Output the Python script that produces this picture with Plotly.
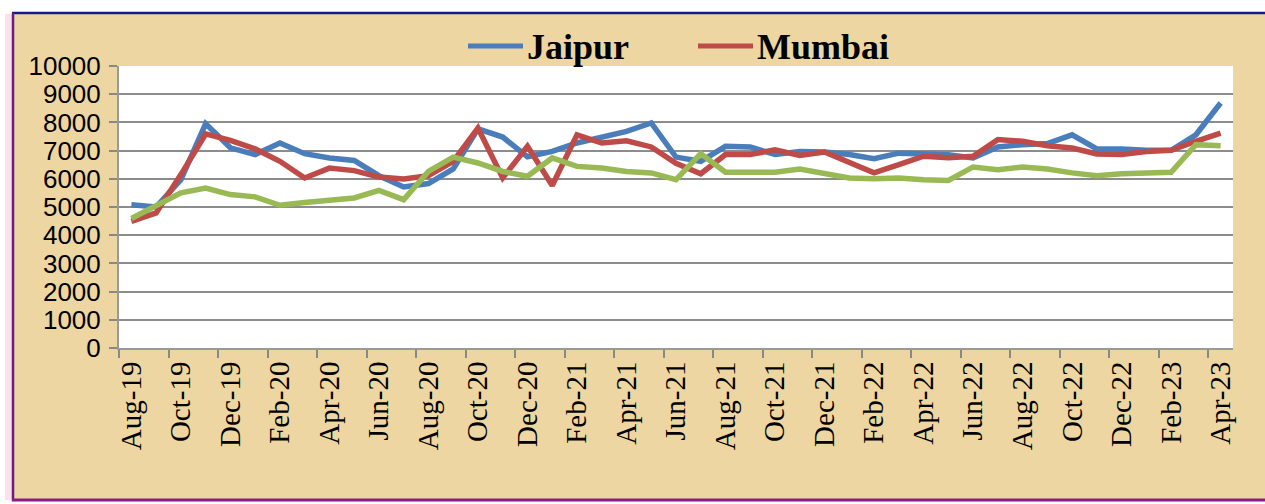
import plotly.graph_objects as go

months = ["Aug-19", "Sep-19", "Oct-19", "Nov-19", "Dec-19", "Jan-20", "Feb-20", "Mar-20", "Apr-20",
          "May-20", "Jun-20", "Jul-20", "Aug-20", "Sep-20", "Oct-20", "Nov-20", "Dec-20", "Jan-21",
          "Feb-21", "Mar-21", "Apr-21", "May-21", "Jun-21", "Jul-21", "Aug-21", "Sep-21", "Oct-21",
          "Nov-21", "Dec-21", "Jan-22", "Feb-22", "Mar-22", "Apr-22", "May-22", "Jun-22", "Jul-22",
          "Aug-22", "Sep-22", "Oct-22", "Nov-22", "Dec-22", "Jan-23", "Feb-23", "Mar-23", "Apr-23"]

jaipur = [5080, 5000, 5970, 7950, 7100, 6860, 7270, 6890, 6740, 6650, 6110, 5710, 5830, 6350, 7770,
          7480, 6780, 6970, 7270, 7480, 7680, 7980, 6770, 6620, 7150, 7130, 6860, 6970, 6950, 6860,
          6710, 6910, 6860, 6850, 6740, 7130, 7210, 7250, 7560, 7060, 7060, 7010, 7010, 7560, 8690]

mumbai = [4490, 4790, 6150, 7590, 7360, 7060, 6620, 6030, 6380, 6290, 6060, 5990, 6110, 6620, 7800,
          6030, 7150, 5760, 7560, 7270, 7350, 7130, 6550, 6180, 6860, 6860, 7030, 6830, 6950, 6560,
          6210, 6500, 6800, 6750, 6800, 7390, 7330, 7170, 7090, 6880, 6860, 6970, 7010, 7330, 7620]

third = [4590, 5050, 5500, 5670, 5440, 5360, 5060, 5160, 5230, 5320, 5590, 5260, 6260, 6770, 6560,
         6260, 6090, 6740, 6440, 6380, 6260, 6210, 5970, 6890, 6230, 6210, 6230, 6350, 6180, 6030,
         6000, 6030, 5970, 5940, 6420, 6320, 6420, 6350, 6210, 6110, 6180, 6210, 6230, 7210, 7170]

series_names = ["Jaipur", "Mumbai", "Series 3"]
series_data = [jaipur, mumbai, third]
series_colors = ["#4A7EBB", "#BE4B48", "#98B954"]
legend_shown = [True, True, False]

y_ticks = list(range(0, 10001, 1000))
y_ticktext = [str(v) for v in y_ticks]

W, H = 1265, 504
L, R, T, B = 119, 32, 66, 156
PW, PH = W - L - R, H - T - B


def px(x):
    return (x - L) / PW


def py(y):
    return (H - B - y) / PH


fig = go.Figure()
for name, data, color in zip(series_names, series_data, series_colors):
    fig.add_trace(go.Scatter(x=months, y=data, mode="lines", name=name,
                             line=dict(color=color, width=5.5), showlegend=False))

shapes = []
# papyrus panel
shapes.append(dict(type="rect", xref="paper", yref="paper", x0=px(13), x1=px(W + 20),
                   y0=py(500), y1=py(13), fillcolor="#EDD6A2", line=dict(width=0), layer="below"))
# pink glow at left
shapes.append(dict(type="rect", xref="paper", yref="paper", x0=px(5), x1=px(12),
                   y0=py(500), y1=py(14), fillcolor="rgba(240,140,170,0.25)", line=dict(width=0), layer="below"))
# borders
shapes.append(dict(type="line", xref="paper", yref="paper", x0=px(12), x1=px(W + 20),
                   y0=py(13), y1=py(13), line=dict(color="#1A1A8C", width=2.5), layer="below"))
shapes.append(dict(type="line", xref="paper", yref="paper", x0=px(13), x1=px(13),
                   y0=py(13), y1=py(501), line=dict(color="#6A1C84", width=2.5), layer="below"))
shapes.append(dict(type="line", xref="paper", yref="paper", x0=px(12), x1=px(W + 20),
                   y0=py(500), y1=py(500), line=dict(color="#8A1A88", width=3), layer="below"))
# white plot area
shapes.append(dict(type="rect", xref="paper", yref="paper", x0=0, x1=1, y0=0, y1=1,
                   fillcolor="white", line=dict(width=0), layer="below"))

# manual legend
annotations = []
leg_line_x = [(468, 523), (698, 753)]
leg_text_x = [525, 755]
k = 0
for name, color, show in zip(series_names, series_colors, legend_shown):
    if not show:
        continue
    x0, x1 = leg_line_x[k]
    shapes.append(dict(type="line", xref="paper", yref="paper", x0=px(x0), x1=px(x1),
                       y0=py(46), y1=py(46), line=dict(color=color, width=5)))
    annotations.append(dict(xref="paper", yref="paper", x=px(leg_text_x[k]), y=py(47),
                            xanchor="left", yanchor="middle", showarrow=False, text=f"<b>{name}</b>",
                            font=dict(family="Liberation Serif, Times New Roman, serif", size=36, color="black")))
    k += 1

fig.update_layout(
    width=W, height=H,
    margin=dict(l=L, r=R, t=T, b=B, pad=0),
    paper_bgcolor="white",
    plot_bgcolor="white",
    shapes=shapes,
    annotations=annotations,
    showlegend=False,
    xaxis=dict(
        type="category",
        range=[-0.5, len(months) - 0.5],
        tickmode="linear", tick0=0, dtick=2,
        tickson="boundaries",
        ticks="outside", ticklen=8, tickcolor="#888888", tickwidth=2,
        showgrid=False,
        showline=True, linecolor="#999999", linewidth=2,
        tickangle=-90,
        tickfont=dict(family="Liberation Serif, Times New Roman, serif", size=29, color="black"),
        zeroline=False,
    ),
    yaxis=dict(
        range=[0, 10000],
        tickmode="array", tickvals=y_ticks, ticktext=y_ticktext,
        ticks="outside", ticklen=8, tickcolor="#888888", tickwidth=2,
        showgrid=True, gridcolor="#8C8C8C", gridwidth=2,
        showline=True, linecolor="#999999", linewidth=2,
        tickfont=dict(family="Liberation Sans, Arial, sans-serif", size=26, color="black"),
        ticklabelstandoff=3,
        zeroline=False,
    ),
)

fig.write_html("out.html", config={"displayModeBar": False},
               post_script="document.body.style.margin='0px';")
